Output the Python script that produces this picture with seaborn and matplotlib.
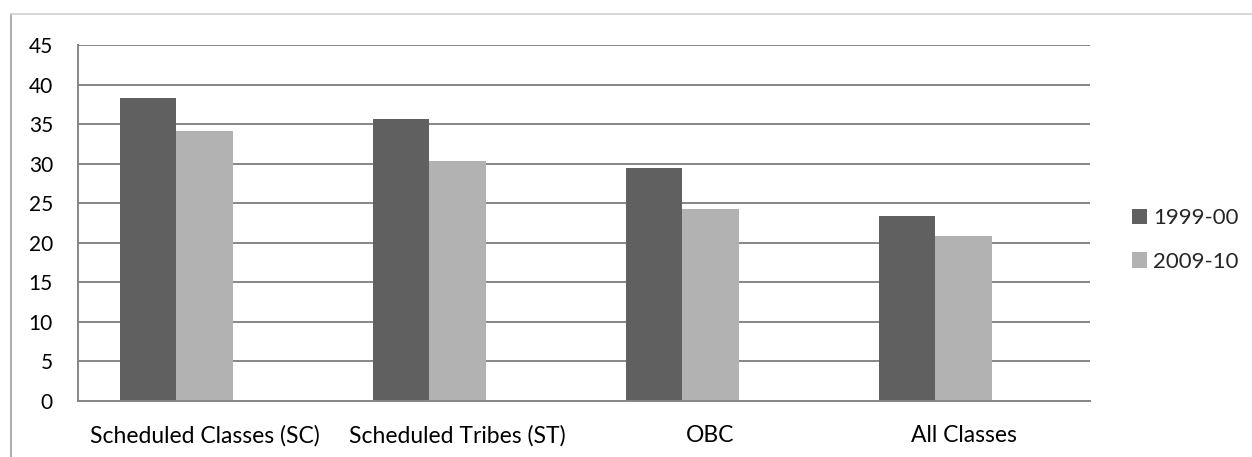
import numpy as np
import pandas as pd
import matplotlib
matplotlib.use("Agg")
import matplotlib.pyplot as plt
from matplotlib.lines import Line2D
import seaborn as sns

# values
categories = ["Scheduled Classes (SC)", "Scheduled Tribes (ST)", "OBC", "All Classes"]
series_names = ["1999-00", "2009-10"]
values_1999 = [38.3, 35.6, 29.5, 23.4]
values_2009 = [34.1, 30.4, 24.3, 20.9]

# Excel chart had an empty third series slot, keep it so bars sit left of centre
EMPTY = "_empty"

rows = []
for cat, v1, v2 in zip(categories, values_1999, values_2009):
    rows.append({"cat": cat, "period": series_names[0], "value": v1})
    rows.append({"cat": cat, "period": series_names[1], "value": v2})
    rows.append({"cat": cat, "period": EMPTY, "value": 0.0})
df = pd.DataFrame(rows)

sns.set_theme(style="white")
plt.rcParams["font.family"] = ["Lato", "DejaVu Sans"]

GRID = "#868686"
palette = {series_names[0]: "#606060", series_names[1]: "#b2b2b2", EMPTY: "#ffffff"}

fig = plt.figure(figsize=(12.52, 4.57), dpi=100)
ax = fig.add_axes([0.0623, 0.1225, 0.8083, 0.779])

sns.barplot(data=df, x="cat", y="value", hue="period",
            order=categories, hue_order=series_names + [EMPTY],
            palette=palette, width=0.667, saturation=1,
            edgecolor="none", linewidth=0, ax=ax, errorbar=None)

ax.set_ylim(0, 45)
ax.set_yticks(np.arange(0, 46, 5))
ax.set_xlim(-0.5, len(categories) - 0.5)
ax.yaxis.grid(True, color=GRID, linewidth=1.4)
ax.set_axisbelow(True)
ax.set_xlabel("")
ax.set_ylabel("")

for side in ["top", "right"]:
    ax.spines[side].set_visible(False)
for side in ["left", "bottom"]:
    ax.spines[side].set_color(GRID)
    ax.spines[side].set_linewidth(1.4)

# x ticks sit on category boundaries, labels in the middle
ax.set_xticks(np.arange(-0.5, len(categories), 1.0))
ax.set_xticklabels([])
ax.set_xticks(np.arange(len(categories)), minor=True)
ax.set_xticklabels(categories, minor=True)
ax.tick_params(axis="x", which="major", direction="out", length=5, color=GRID, width=1.4)
ax.tick_params(axis="x", which="minor", length=0, pad=17, labelsize=16.5, labelcolor="black")
ax.tick_params(axis="y", direction="out", length=6, color=GRID, width=1.4,
               pad=12, labelsize=15, labelcolor="black")

handles, labels = ax.get_legend_handles_labels()
ax.legend(handles[:2], labels[:2], loc="center left", bbox_to_anchor=(0.888, 0.475),
          bbox_transform=fig.transFigure, frameon=False, fontsize=16,
          handlelength=0.68, handleheight=0.68, handletextpad=0.27, labelspacing=1.07)

# outer chart border (only top and left are visible in the reference)
fig.add_artist(Line2D([0.009, 0.009], [0.0, 0.97], transform=fig.transFigure,
                      color="#a0a0a0", linewidth=1.2))
fig.add_artist(Line2D([0.009, 1.0], [0.97, 0.97], transform=fig.transFigure,
                      color="#d0d0d0", linewidth=1.2))

fig.savefig("out.png", dpi=100, facecolor="white")
